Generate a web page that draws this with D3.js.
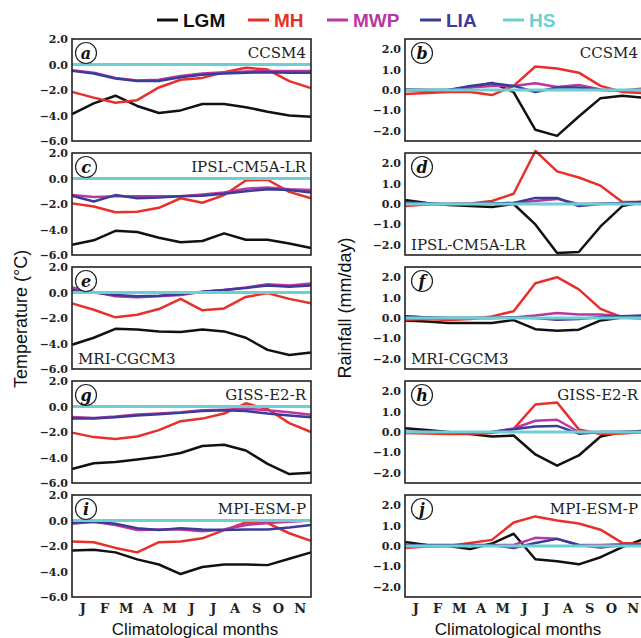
<!DOCTYPE html>
<html>
<head>
<meta charset="utf-8">
<script src="https://cdn.jsdelivr.net/npm/d3@7"></script>
<style>
  body { margin: 0; background: #fff; }
  svg { display: block; }
</style>
</head>
<body>
<svg id="chart" width="641" height="638"></svg>
<script>
// month tick labels (D is not labelled)
const monthLabels = ["J","F","M","A","M","J","J","A","S","O","N"];
const seriesNames = ["LGM","MH","MWP","LIA","HS"];
const seriesColors = ["#111111","#e8302a","#b8389f","#3b3b98","#6ccfd2"];
const hsZero = [0,0,0,0,0,0,0,0,0,0,0,0];

// (a) CCSM4 temperature
const aLGM = [-3.9,-3.05,-2.45,-3.25,-3.8,-3.6,-3.1,-3.1,-3.35,-3.7,-4.0,-4.1];
const aMH  = [-2.15,-2.6,-3.0,-2.8,-1.8,-1.2,-1.05,-0.6,-0.25,-0.4,-1.3,-1.85];
const aMWP = [-0.45,-0.65,-1.05,-1.25,-1.2,-0.9,-0.7,-0.6,-0.55,-0.5,-0.5,-0.5];
const aLIA = [-0.5,-0.7,-1.1,-1.3,-1.3,-1.0,-0.8,-0.7,-0.65,-0.6,-0.65,-0.65];
// (b) CCSM4 rainfall
const bLGM = [0,-0.03,0,0.12,0.35,-0.1,-1.95,-2.25,-1.3,-0.4,-0.28,-0.38];
const bMH  = [-0.2,-0.15,-0.1,-0.1,-0.25,0.2,1.15,1.05,0.85,0.2,-0.1,-0.15];
const bMWP = [0.03,0,0,0.12,0.2,0.2,0.33,0.15,0.25,0.03,-0.03,0.08];
const bLIA = [0.03,0,0,0.2,0.33,0.2,-0.1,0.12,0.12,0,-0.03,0];
// (c) IPSL-CM5A-LR temperature
const cLGM = [-5.2,-4.85,-4.1,-4.2,-4.65,-5.0,-4.9,-4.3,-4.8,-4.8,-5.1,-5.45];
const cMH  = [-1.95,-2.2,-2.65,-2.6,-2.3,-1.55,-1.9,-1.3,-0.15,-0.1,-1.05,-1.55];
const cMWP = [-1.3,-1.45,-1.4,-1.4,-1.4,-1.4,-1.25,-1.1,-0.8,-0.7,-0.85,-0.9];
const cLIA = [-1.35,-1.8,-1.3,-1.55,-1.5,-1.4,-1.35,-1.2,-1.0,-0.85,-0.9,-1.1];
// (d) IPSL-CM5A-LR rainfall
const dLGM = [0.2,0.05,-0.05,-0.1,-0.15,0,-1.0,-2.4,-2.35,-1.1,-0.1,0.1];
const dMH  = [-0.1,-0.03,0,0.03,0.15,0.5,2.6,1.6,1.3,0.9,0.1,0.1];
const dMWP = [-0.05,0,0,0,0.02,0.05,0.15,0.25,0,0.03,0.05,0.1];
const dLIA = [0.1,0.03,0,0,0.03,0.05,0.3,0.3,-0.1,0,0.05,0.1];
// (e) MRI-CGCM3 temperature
const eLGM = [-4.1,-3.55,-2.85,-2.9,-3.05,-3.1,-2.9,-3.05,-3.55,-4.5,-4.9,-4.7];
const eMH  = [-0.85,-1.35,-1.95,-1.75,-1.3,-0.5,-1.4,-1.25,-0.35,-0.05,-0.5,-0.85];
const eMWP = [0.4,0.05,-0.3,-0.38,-0.3,-0.2,0.05,0.2,0.4,0.65,0.55,0.7];
const eLIA = [0.2,0,-0.2,-0.3,-0.25,-0.12,0.05,0.2,0.35,0.55,0.45,0.55];
// (f) MRI-CGCM3 rainfall
const fLGM = [-0.12,-0.17,-0.25,-0.25,-0.25,-0.1,-0.55,-0.62,-0.57,-0.12,0.03,0.08];
const fMH  = [-0.08,-0.05,-0.1,-0.05,0.08,0.33,1.7,2.0,1.4,0.45,0.03,-0.03];
const fMWP = [0.08,0.03,0,0,0,0.03,0.12,0.25,0.17,0.17,0.08,0.08];
const fLIA = [0.08,0.03,0,0,0,0.03,0,-0.08,-0.05,0.05,0.08,0.13];
// (g) GISS-E2-R temperature
const gLGM = [-4.9,-4.45,-4.35,-4.15,-3.95,-3.65,-3.1,-3.0,-3.45,-4.5,-5.3,-5.2];
const gMH  = [-2.05,-2.4,-2.55,-2.35,-1.85,-1.15,-0.95,-0.55,0.25,-0.2,-1.3,-2.0];
const gMWP = [-0.82,-0.9,-0.78,-0.62,-0.55,-0.45,-0.3,-0.25,-0.18,-0.3,-0.45,-0.65];
const gLIA = [-0.95,-0.95,-0.85,-0.7,-0.6,-0.5,-0.35,-0.3,-0.35,-0.55,-0.7,-0.85];
// (h) GISS-E2-R rainfall
const hLGM = [0.18,0.1,0,-0.1,-0.22,-0.17,-1.1,-1.65,-1.15,-0.22,0,0.05];
const hMH  = [-0.05,-0.07,-0.1,-0.1,-0.05,0.15,1.35,1.45,0.13,-0.1,-0.07,0];
const hMWP = [0,0,-0.03,-0.05,0,0.17,0.55,0.6,0,0,0,0];
const hLIA = [0,0,-0.03,-0.05,0,0.13,0.27,0.3,-0.08,0,0,0];
// (i) MPI-ESM-P temperature
const iLGM = [-2.35,-2.3,-2.5,-3.05,-3.45,-4.2,-3.65,-3.45,-3.45,-3.5,-3.0,-2.5];
const iMH  = [-1.65,-1.7,-2.15,-2.5,-1.7,-1.65,-1.4,-0.75,-0.15,-0.2,-1.0,-1.6];
const iMWP = [-0.25,-0.1,-0.35,-0.75,-0.7,-0.7,-0.85,-0.7,-0.35,-0.2,-0.1,0];
const iLIA = [-0.15,-0.1,-0.25,-0.6,-0.75,-0.6,-0.7,-0.75,-0.7,-0.7,-0.55,-0.35];
// (j) MPI-ESM-P rainfall
const jLGM = [0.2,0.05,0,-0.15,0.12,0.6,-0.65,-0.75,-0.9,-0.55,-0.05,0.35];
const jMH  = [-0.1,-0.03,0,0.15,0.3,1.15,1.45,1.25,1.1,0.8,0.15,0.1];
const jMWP = [0,0,0,0.03,0.05,0.05,0.4,0.35,0.05,0.05,0.08,0.05];
const jLIA = [0.05,0.05,0.05,0.05,0.05,-0.1,0.15,0.35,0.05,-0.08,0.05,0.05];

const tempTicks = [2,0,-2,-4,-6];
const rainTicks = [2,1,0,-1,-2];

const panels = [
  {id:"a", model:"CCSM4",        col:0, row:0, pos:"tr", s:[aLGM,aMH,aMWP,aLIA,hsZero]},
  {id:"b", model:"CCSM4",        col:1, row:0, pos:"tr", s:[bLGM,bMH,bMWP,bLIA,hsZero]},
  {id:"c", model:"IPSL-CM5A-LR", col:0, row:1, pos:"tr", s:[cLGM,cMH,cMWP,cLIA,hsZero]},
  {id:"d", model:"IPSL-CM5A-LR", col:1, row:1, pos:"bl", s:[dLGM,dMH,dMWP,dLIA,hsZero]},
  {id:"e", model:"MRI-CGCM3",    col:0, row:2, pos:"bl", s:[eLGM,eMH,eMWP,eLIA,hsZero]},
  {id:"f", model:"MRI-CGCM3",    col:1, row:2, pos:"bl", s:[fLGM,fMH,fMWP,fLIA,hsZero]},
  {id:"g", model:"GISS-E2-R",    col:0, row:3, pos:"tr", s:[gLGM,gMH,gMWP,gLIA,hsZero]},
  {id:"h", model:"GISS-E2-R",    col:1, row:3, pos:"tr", s:[hLGM,hMH,hMWP,hLIA,hsZero]},
  {id:"i", model:"MPI-ESM-P",    col:0, row:4, pos:"tr", s:[iLGM,iMH,iMWP,iLIA,hsZero]},
  {id:"j", model:"MPI-ESM-P",    col:1, row:4, pos:"tr", s:[jLGM,jMH,jMWP,jLIA,hsZero]}
];

const svg = d3.select("#chart");
const colLeft = [72, 405];
const panelW = 239, panelH = 102, top0 = 39, pitch = 114;
const serifBold = "'DejaVu Serif', serif";

/* Legend */
const legendX = [157, 248, 327, 420, 503];
const legend = svg.append("g").attr("class","legend");
seriesNames.forEach((name, k) => {
  legend.append("line")
      .attr("x1", legendX[k]).attr("x2", legendX[k] + 21)
      .attr("y1", 20).attr("y2", 20)
      .attr("stroke", seriesColors[k]).attr("stroke-width", 3);
  legend.append("text")
      .attr("x", legendX[k] + 26).attr("y", 27)
      .attr("fill", seriesColors[k])
      .attr("style", "font-family: Arial, 'Liberation Sans', sans-serif; font-weight: bold; font-size: 19px;")
      .text(name);
});

panels.forEach(p => {
  const x0 = colLeft[p.col], y0 = top0 + p.row * pitch;
  const isTemp = p.col === 0;
  const x = d3.scaleLinear().domain([0, 11]).range([x0, x0 + panelW]);
  const y = d3.scaleLinear()
      .domain(isTemp ? [-6, 2] : [-2.5, 2.5])
      .range([y0 + panelH, y0]);
  const g = svg.append("g").attr("class", "panel-" + p.id);

  // y tick labels
  const yAxis = d3.axisLeft(y)
      .tickValues(isTemp ? tempTicks : rainTicks)
      .tickFormat(d3.format(".1f"))
      .tickSize(0).tickPadding(4);
  const ya = g.append("g").attr("transform", `translate(${x0},0)`).call(yAxis);
  ya.select(".domain").remove();
  ya.selectAll("text")
      .attr("style", `font-family: ${serifBold}; font-weight: bold; font-size: 11px; fill: #222;`);

  // lines
  const line = d3.line().x((d, i) => x(i)).y(d => y(d));
  p.s.forEach((vals, k) => {
    g.append("path")
        .datum(vals)
        .attr("d", line)
        .attr("fill", "none")
        .attr("stroke", seriesColors[k])
        .attr("stroke-width", k === 4 ? 3 : 2.5)
        .attr("stroke-linejoin", "round");
  });

  // frame
  g.append("rect")
      .attr("x", x0).attr("y", y0)
      .attr("width", panelW).attr("height", panelH)
      .attr("fill", "none").attr("stroke", "#222").attr("stroke-width", 1.6);

  // panel letter in a circle
  const cx = x0 + (isTemp ? 14 : 17), cy = y0 + 14;
  g.append("circle").attr("cx", cx).attr("cy", cy).attr("r", 10.5)
      .attr("fill", "#fff").attr("stroke", "#222").attr("stroke-width", 1.2);
  g.append("text").attr("x", cx).attr("y", cy + 5.5)
      .attr("text-anchor", "middle")
      .attr("style", `font-family: ${serifBold}; font-weight: bold; font-style: italic; font-size: 16px; fill: #111;`)
      .text(p.id);

  // model name
  const mt = g.append("text")
      .attr("style", "font-family: 'DejaVu Serif', serif; font-size: 15px; fill: #222;")
      .text(p.model);
  if (p.pos === "tr") {
    mt.attr("x", isTemp ? x0 + panelW - 5 : 638).attr("y", y0 + 19).attr("text-anchor", "end");
  } else {
    mt.attr("x", x0 + 6).attr("y", y0 + panelH - 5);
  }

  // month labels under the bottom row
  if (p.row === 4) {
    const months = g.append("g");
    monthLabels.forEach((m, i) => {
      months.append("text")
          .attr("x", x(i + 0.5)).attr("y", y0 + panelH + 16)
          .attr("text-anchor", "middle")
          .attr("style", `font-family: ${serifBold}; font-weight: bold; font-size: 13px; fill: #222;`)
          .text(m);
    });
  }
});

/* axis titles */
const sans = "font-family: Arial, 'Liberation Sans', sans-serif; font-size: 17px; fill: #111;";
const sansY = "font-family: Arial, 'Liberation Sans', sans-serif; font-size: 18px; fill: #111;";
svg.append("text").attr("x", 195).attr("y", 635).attr("text-anchor", "middle")
    .attr("style", sans).text("Climatological months");
svg.append("text").attr("x", 518).attr("y", 635).attr("text-anchor", "middle")
    .attr("style", sans).text("Climatological months");
svg.append("text").attr("transform", "translate(27,319) rotate(-90)").attr("text-anchor", "middle")
    .attr("style", sansY).text("Temperature (°C)");
svg.append("text").attr("transform", "translate(351,308) rotate(-90)").attr("text-anchor", "middle")
    .attr("style", sansY).text("Rainfall (mm/day)");
</script>
</body>
</html>
